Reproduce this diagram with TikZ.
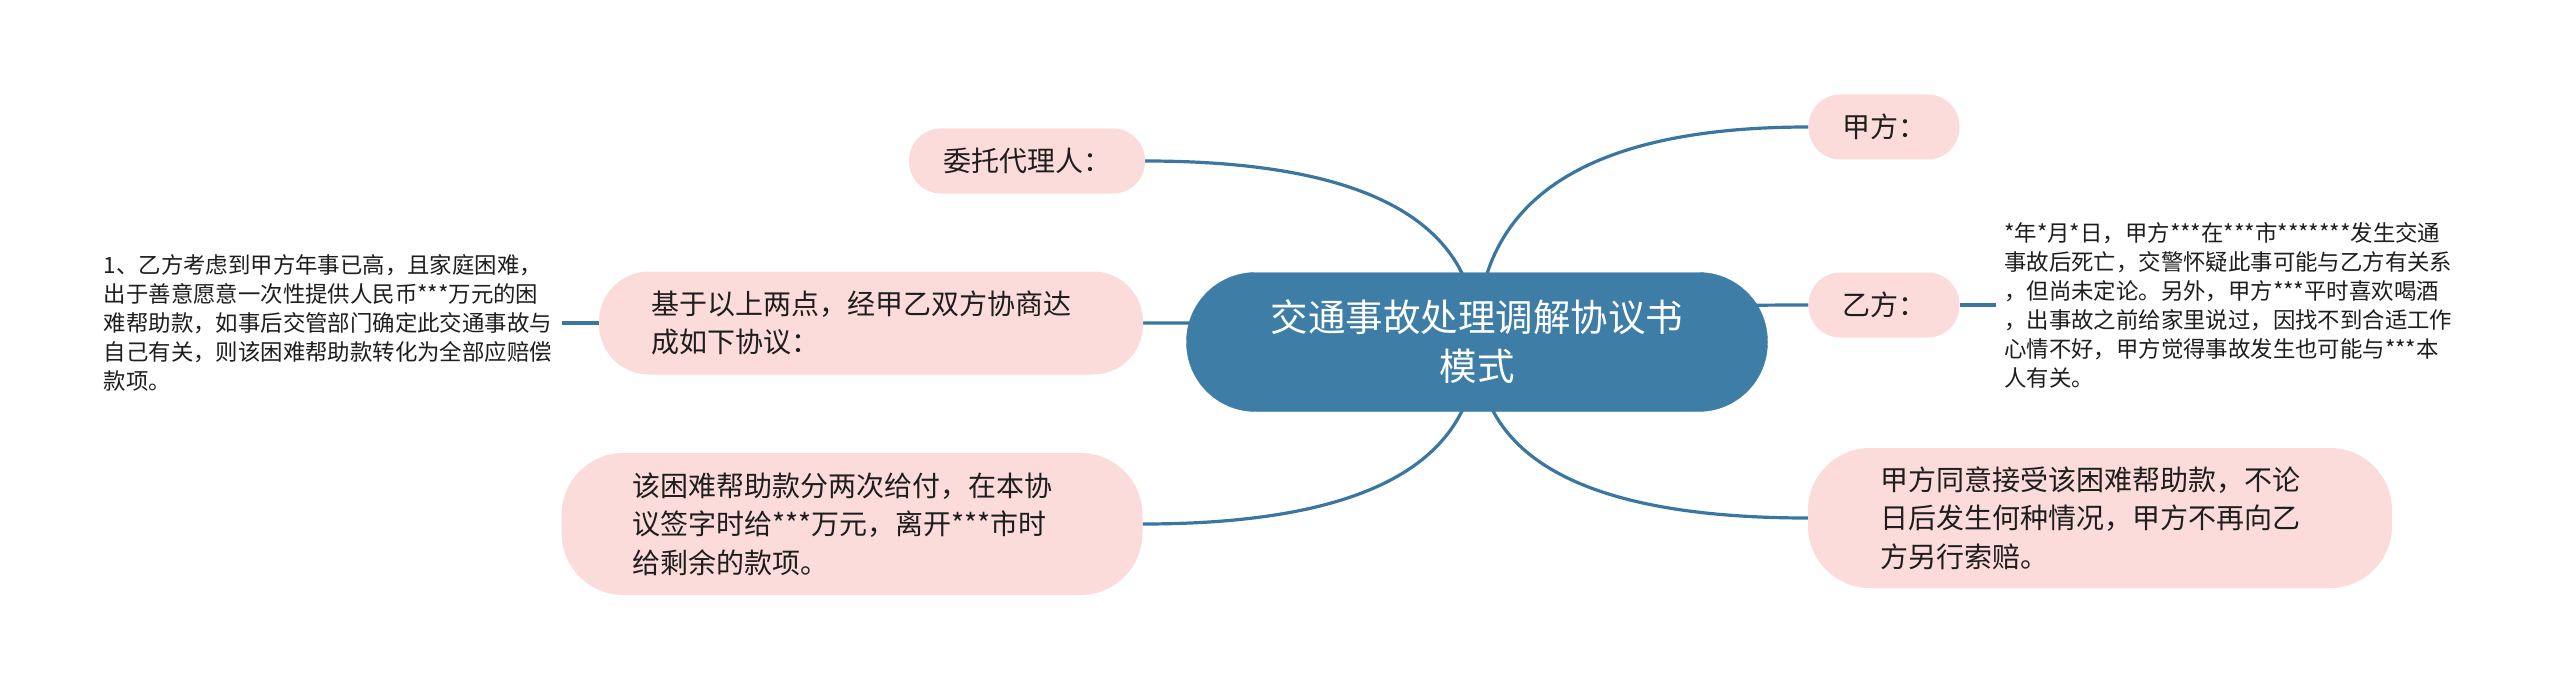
\documentclass[tikz,border=0pt]{standalone}
\usepackage{fontspec}
\setmainfont{Noto Sans CJK SC}
\usetikzlibrary{calc}
\definecolor{rootblue}{RGB}{62,126,166}
\definecolor{linecol}{RGB}{58,118,160}
\definecolor{pinkfill}{RGB}{252,219,219}
\definecolor{txt}{RGB}{30,30,30}
\pgfdeclarelayer{back}
\pgfdeclarelayer{bg}
\pgfsetlayers{back,bg,main}
\begin{document}
\begin{tikzpicture}[x=1pt,y=-1pt,
  rootbox/.style={fill=rootblue, draw=rootblue, rounded corners=69pt, minimum width=581pt, minimum height=139pt, text=white, font=\fontsize{37.5}{49}\selectfont, align=center, inner sep=0pt},
  pillone/.style={fill=pinkfill, text=txt, inner sep=0pt, rounded corners=32pt, minimum height=65pt, font=\fontsize{28}{38.5}\selectfont},
  pillmulti/.style={fill=pinkfill, text=txt, inner sep=0pt, align=left, text width=440pt, font=\fontsize{28}{38.5}\selectfont},
  detail/.style={text=txt, font=\fontsize{22.4}{29}\selectfont, align=left, text width=450pt, inner sep=8pt},
  conn/.style={draw=linecol, line width=3.2pt}]
\begin{pgfonlayer}{back}
\fill[white] (0,0) rectangle (2560,690);
\end{pgfonlayer}
\useasboundingbox (0,0) rectangle (2560,690);
\node[rootbox] (root) at (1477,342) {交通事故处理调解协议书\\模式};
\node[pillone, minimum width=236pt] (wtdl) at (1027,161) {委托代理人：};
\node[pillone, minimum width=151pt] (jf) at (1884,127) {甲方：};
\node[pillone, minimum width=151pt] (yf) at (1884,305) {乙方：};
\node[pillmulti, minimum width=544pt, minimum height=103pt, rounded corners=50pt] (jy) at (871,323) {基于以上两点，经甲乙双方协商达\\成如下协议：};
\node[pillmulti, minimum width=581pt, minimum height=142pt, rounded corners=62pt] (gk) at (852,524) {该困难帮助款分两次给付，在本协\\议签字时给***万元，离开***市时\\给剩余的款项。};
\node[pillmulti, minimum width=584pt, minimum height=140pt, rounded corners=62pt] (jt) at (2100,518) {甲方同意接受该困难帮助款，不论\\日后发生何种情况，甲方不再向乙\\方另行索赔。};
\node[detail, anchor=west] (dright) at (1996,305) {*年*月*日，甲方***在***市*******发生交通\\事故后死亡，交警怀疑此事可能与乙方有关系\\，但尚未定论。另外，甲方***平时喜欢喝酒\\，出事故之前给家里说过，因找不到合适工作\\心情不好，甲方觉得事故发生也可能与***本\\人有关。};
\node[detail, anchor=east] (dleft) at (562,323) {1、乙方考虑到甲方年事已高，且家庭困难，\\出于善意愿意一次性提供人民币***万元的困\\难帮助款，如事后交管部门确定此交通事故与\\自己有关，则该困难帮助款转化为全部应赔偿\\款项。};
\begin{pgfonlayer}{bg}
\foreach \n/\a in {wtdl/east, jf/west, yf/west, jy/east, gk/east, jt/west} {
  \coordinate (k) at (root.center |- \n.\a);
  \draw[conn] (root.center) .. controls ($(root.center)!0.6667!(k)$) and ($(\n.\a)!0.6667!(k)$) .. (\n.\a);
}
\end{pgfonlayer}
\draw[conn] (yf.east) -- (dright.west);
\draw[conn] (jy.west) -- (dleft.east);
\end{tikzpicture}
\end{document}
